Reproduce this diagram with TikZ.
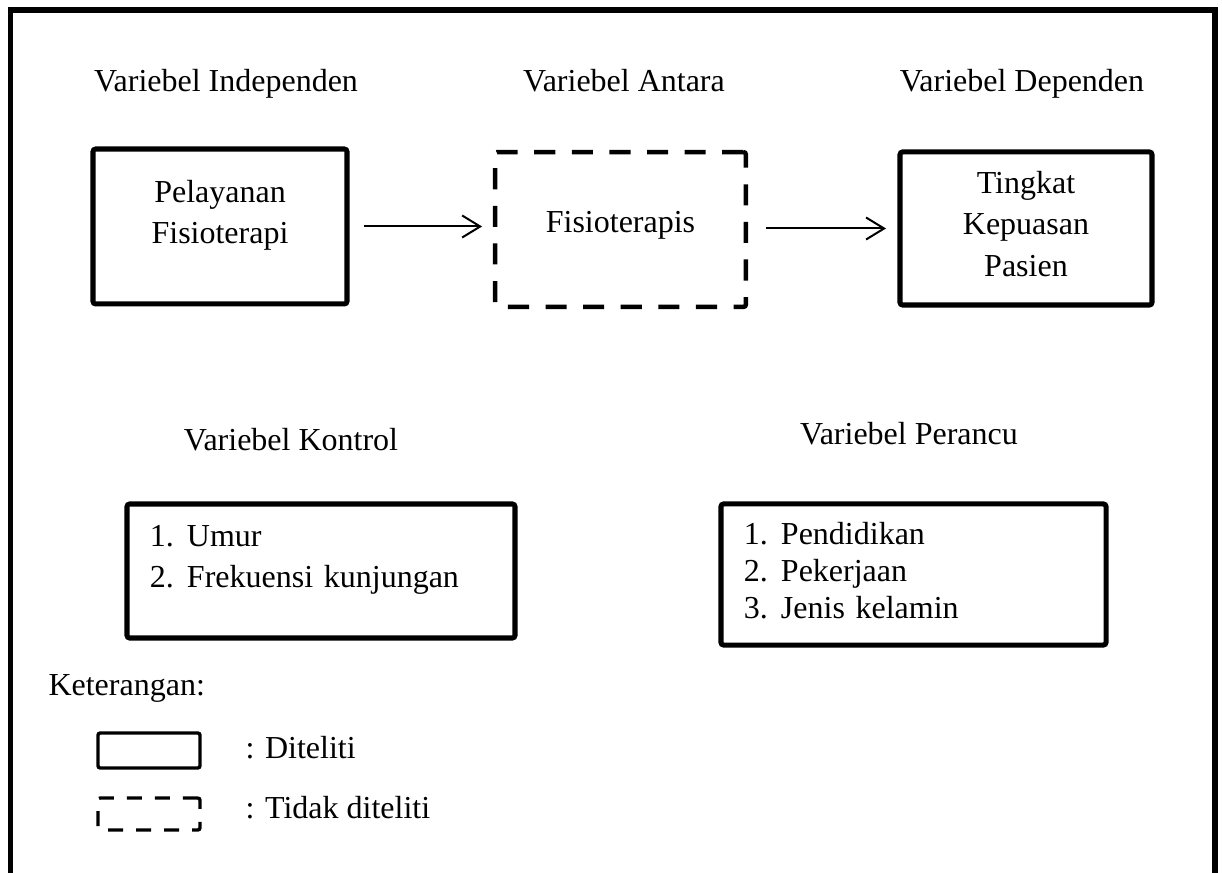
\documentclass[tikz,border=0pt]{standalone}
\usepackage{fontspec}
\setmainfont{Liberation Serif}
\usetikzlibrary{arrows.meta,positioning}
\tikzset{
  every node/.style={font=\fontsize{12}{15.4}\selectfont},
  frame/.style={line width=1.9pt},
  box/.style={draw, line width=1.9pt, rounded corners=1pt, align=center, inner sep=0pt},
  dashbox/.style={box, line width=1.7pt, dash pattern=on 7.9pt off 6.2pt},
  listbox/.style={box, align=left, inner xsep=8.6pt, inner ysep=0pt},
  keybox/.style={draw, line width=1.25pt, rounded corners=0.8pt, minimum width=38.25pt, inner sep=0pt},
  head/.style={anchor=base},
  plain/.style={anchor=base west, inner sep=0pt},
  arrow/.style={-{Straight Barb[length=6.75pt,width=8.25pt]}, line width=0.75pt},
}
\newcommand{\itm}[2]{\makebox[13.9pt][l]{#1}#2}

\begin{document}
\begin{tikzpicture}[x=0.375pt, y=-0.375pt]
\useasboundingbox (0,0) rectangle (1222,873);
\draw[frame] (10.5,880) -- (10.5,10) -- (1215,10) -- (1215,880);

% headings of the three variables
\node[head] (tind) at (226,92) {Variebel Independen};
\node[head] (tant) at (624,92) {Variebel Antara};
\node[head] (tdep) at (1022,92) {Variebel Dependen};

\node[box, minimum width=95.25pt, minimum height=58.1pt, text depth=10.9pt] (pel) at (220,226.5) {Pelayanan\\Fisioterapi};
\node[dashbox, minimum width=94.1pt, minimum height=58.1pt, text depth=5.6pt] (fis) at (620.5,229.5) {Fisioterapis};
\node[box, minimum width=94.5pt, minimum height=57.4pt, text depth=3.75pt, font=\fontsize{12}{15.6}\selectfont] (tkp) at (1026,228.5) {Tingkat\\Kepuasan\\Pasien};

\draw[arrow, shorten <=5.25pt, shorten >=4pt] (pel.east) -- (pel.east -| fis.west);
\draw[arrow, shorten <=6.6pt, shorten >=4.3pt] (tkp.west -| fis.east) -- (tkp.west);

% control and confounding variables
\node[head] (tkon) at (291,451) {Variebel Kontrol};
\node[head] (tper) at (909,445) {Variebel Perancu};

\node[listbox, text width=128.3pt, minimum height=50.25pt, text depth=26pt] (kon) at (321,571) {\itm{1.}{Umur}\\\itm{2.}{Frekuensi kunjungan}};
\node[listbox, text width=127.2pt, minimum height=52.9pt, text depth=31.1pt, font=\fontsize{12}{13.9}\selectfont] (per) at (913.5,574.5) {\itm{1.}{Pendidikan}\\\itm{2.}{Pekerjaan}\\\itm{3.}{Jenis kelamin}};

% legend
\node[plain] (ket) at (48,696) {Keterangan:};
\node[keybox, minimum height=13.1pt] (kd) at (149,750.5) {};
\node[keybox, minimum height=12pt, dash pattern=on 5.6pt off 4.9pt] (kt) at (149,814) {};
\node[plain] (ld) at (245,758) {: Diteliti};
\node[plain] (lt) at (245,818) {: Tidak diteliti};
\end{tikzpicture}
\end{document}
